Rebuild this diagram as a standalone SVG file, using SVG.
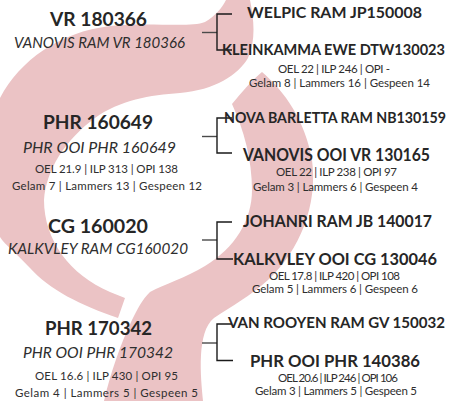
<svg xmlns="http://www.w3.org/2000/svg" width="450" height="401" viewBox="0 0 450 401">
<style>
.bg{fill:#ebc3c5}
.h{font-family:Lato,"Noto Sans",sans-serif;font-weight:700;fill:#262626;text-anchor:middle}
.it{font-family:Lato,"Noto Sans",sans-serif;font-weight:400;font-style:italic;fill:#2e2e2e;text-anchor:middle}
.s{font-family:Lato,"Noto Sans",sans-serif;font-weight:400;font-size:11.5px;fill:#2e2e2e;text-anchor:middle}
.ln{fill:none;stroke:#1a1a1a;stroke-width:1.4}
.stub{fill:none;stroke:#4a4a4a;stroke-width:1.4}
</style>
<g id="background">
<path class="bg" d="M0,98 C20,60 60,32 110,26 C150,22 190,28 205,22 C215,16 222,8 226,0 L250,0 C254,20 256,40 248,58 C238,75 215,90 180,93 C150,95 120,100 95,118 C65,140 46,170 44,200 C44,240 70,275 110,292 L125,298 L118,318 C80,305 50,290 30,268 C15,252 5,245 0,237 Z"/>
<path class="bg" d="M262,72 C285,92 305,120 312,160 C318,205 300,250 268,280 C250,296 232,306 214,318 C205,325 202,340 201,355 C200,372 202,390 203,401 L104,401 C110,375 120,345 132,320 C138,308 142,300 150,292 C165,284 185,278 205,266 C235,248 252,220 252,190 C252,160 244,130 232,104 C242,92 252,80 262,72 Z"/>
</g>
<g id="connectors">
<path class="stub" d="M202,32.5 H217"/>
<path class="ln" d="M232,14 H217 V50 H232"/>
<path class="stub" d="M202,136.5 H217"/>
<path class="ln" d="M232,118 H217 V153 H232"/>
<path class="stub" d="M202,240 H217"/>
<path class="ln" d="M232,222 H217 V259 H233"/>
<path class="stub" d="M202,343 H217"/>
<path class="ln" d="M232,324 H217 V360.5 H233"/>
</g>
<g id="sire-VR180366">
<text class="h" x="98.5" y="25.5" font-size="19.5" textLength="97" lengthAdjust="spacingAndGlyphs">VR 180366</text>
<text class="it" x="99.5" y="47.5" font-size="15.5" textLength="171" lengthAdjust="spacingAndGlyphs">VANOVIS RAM VR 180366</text>
</g>
<g id="dam-PHR160649">
<text class="h" x="98" y="129" font-size="19.5" textLength="110" lengthAdjust="spacingAndGlyphs">PHR 160649</text>
<text class="it" x="99.5" y="153" font-size="15.5" textLength="153" lengthAdjust="spacingAndGlyphs">PHR OOI PHR 160649</text>
<text class="s" x="106.5" y="173" textLength="143">OEL 21.9 | ILP 313 | OPI 138</text>
<text class="s" x="107" y="190" textLength="190">Gelam 7 | Lammers 13 | Gespeen 12</text>
</g>
<g id="sire-CG160020">
<text class="h" x="98" y="233" font-size="19.5" textLength="100" lengthAdjust="spacingAndGlyphs">CG 160020</text>
<text class="it" x="98" y="254" font-size="15.5" textLength="180" lengthAdjust="spacingAndGlyphs">KALKVLEY RAM CG160020</text>
</g>
<g id="dam-PHR170342">
<text class="h" x="98.5" y="335" font-size="19.5" textLength="107" lengthAdjust="spacingAndGlyphs">PHR 170342</text>
<text class="it" x="98" y="358" font-size="15.5" textLength="150" lengthAdjust="spacingAndGlyphs">PHR OOI PHR 170342</text>
<text class="s" x="106.5" y="380" textLength="143">OEL 16.6 | ILP 430 | OPI 95</text>
<text class="s" x="106.5" y="397" textLength="183">Gelam 4 | Lammers 5 | Gespeen 5</text>
</g>
<g id="WELPIC">
<text class="h" x="334.5" y="18" font-size="16" textLength="175" lengthAdjust="spacingAndGlyphs">WELPIC RAM JP150008</text>
</g>
<g id="KLEINKAMMA">
<text class="h" x="333.5" y="55" font-size="14.8" textLength="223" lengthAdjust="spacingAndGlyphs">KLEINKAMMA EWE DTW130023</text>
<text class="s" x="334" y="73" textLength="112">OEL 22 | ILP 246 | OPI -</text>
<text class="s" x="339.5" y="87" textLength="181">Gelam 8 | Lammers 16 | Gespeen 14</text>
</g>
<g id="NOVABARLETTA">
<text class="h" x="335" y="122.7" font-size="14.3" textLength="222" lengthAdjust="spacingAndGlyphs">NOVA BARLETTA RAM NB130159</text>
</g>
<g id="VANOVISOOI">
<text class="h" x="336.5" y="161" font-size="16.5" textLength="187" lengthAdjust="spacingAndGlyphs">VANOVIS OOI VR 130165</text>
<text class="s" x="336.5" y="176" textLength="121">OEL 22 | ILP 238 | OPI 97</text>
<text class="s" x="335.5" y="190.7" textLength="165">Gelam 3 | Lammers 6 | Gespeen 4</text>
</g>
<g id="JOHANRI">
<text class="h" x="337.5" y="226.7" font-size="16.3" textLength="189" lengthAdjust="spacingAndGlyphs">JOHANRI RAM JB 140017</text>
</g>
<g id="KALKVLEYOOI">
<text class="h" x="335" y="265" font-size="16.8" textLength="204" lengthAdjust="spacingAndGlyphs">KALKVLEY OOI CG 130046</text>
<text class="s" x="334.5" y="280" textLength="131">OEL 17.8 | ILP 420 | OPI 108</text>
<text class="s" x="335" y="293" textLength="166">Gelam 5 | Lammers 6 | Gespeen 6</text>
</g>
<g id="VANROOYEN">
<text class="h" x="336.5" y="328.3" font-size="15.2" textLength="217" lengthAdjust="spacingAndGlyphs">VAN ROOYEN RAM GV 150032</text>
</g>
<g id="PHROOI140386">
<text class="h" x="335" y="366.7" font-size="17" textLength="170" lengthAdjust="spacingAndGlyphs">PHR OOI PHR 140386</text>
<text class="s" x="338" y="382.3" textLength="120">OEL 20.6 | ILP 246 | OPI 106</text>
<text class="s" x="336" y="395" textLength="162">Gelam 3 | Lammers 5 | Gespeen 5</text>
</g>
</svg>
